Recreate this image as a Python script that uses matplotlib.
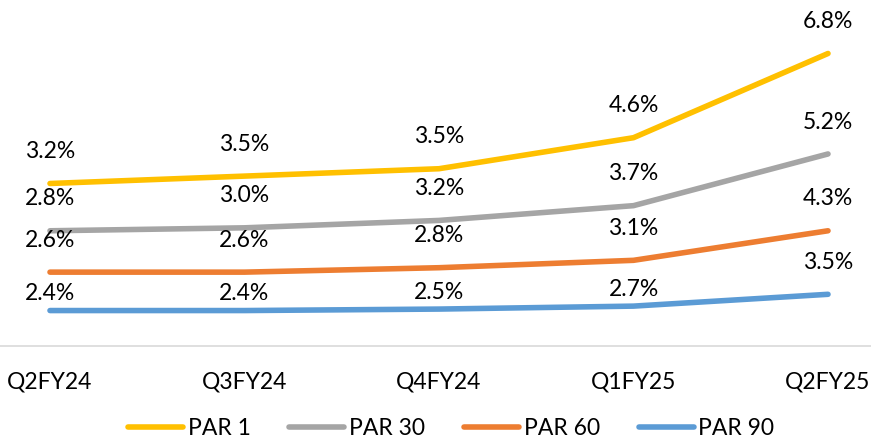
import numpy as np
import matplotlib
matplotlib.use("Agg")
import matplotlib.pyplot as plt

plt.rcParams["font.family"] = ["Lato", "DejaVu Sans"]

quarters = ["Q2FY24", "Q3FY24", "Q4FY24", "Q1FY25", "Q2FY25"]
par_90 = [2.4, 2.4, 2.5, 2.7, 3.5]
par_60 = [2.6, 2.6, 2.8, 3.1, 4.3]
par_30 = [2.8, 3.0, 3.2, 3.7, 5.2]
par_1 = [3.2, 3.5, 3.5, 4.6, 6.8]

series = [("PAR 1", par_1, "#FFC000"),
          ("PAR 30", par_30, "#A5A5A5"),
          ("PAR 60", par_60, "#ED7D31"),
          ("PAR 90", par_90, "#5B9BD5")]

# stacked line chart: bottom series first
stack = np.cumsum([par_90, par_60, par_30, par_1], axis=0)
stacked = {"PAR 90": stack[0], "PAR 60": stack[1], "PAR 30": stack[2], "PAR 1": stack[3]}

fig = plt.figure(figsize=(8.71, 4.44), dpi=100)
ax = fig.add_axes([0, 0.2207, 1, 0.7387])
x = np.arange(len(quarters))

for name, vals, color in series:
    ys = stacked[name]
    ax.plot(x, ys, color=color, lw=4, solid_capstyle="round", label=name)
    for i, (v, y) in enumerate(zip(vals, ys)):
        # labels sit above the line; the low blue ones are tucked in closer
        off = 12 if (name == "PAR 90" and i < 4) else 23
        ax.annotate(f"{v:.1f}%", (i, y), xytext=(0, off), textcoords="offset points",
                    ha="center", va="center", fontsize=16.5, color="black")

ax.set_xlim(-0.257, 4.221)
ax.set_ylim(0, 22.2)
ax.set_xticks(x)
ax.set_xticklabels(quarters, fontsize=16.5)
ax.tick_params(axis="x", length=0, pad=18)
ax.set_yticks([])
for s in ["top", "right", "left"]:
    ax.spines[s].set_visible(False)
ax.spines["bottom"].set_color("#D9D9D9")
ax.spines["bottom"].set_linewidth(1.2)

fig.legend(loc="lower center", bbox_to_anchor=(0.518, -0.035), ncol=4, frameon=False,
           fontsize=16.5, handlelength=2.4, handletextpad=0.2, columnspacing=1.7)

fig.savefig("out.png", dpi=100)
